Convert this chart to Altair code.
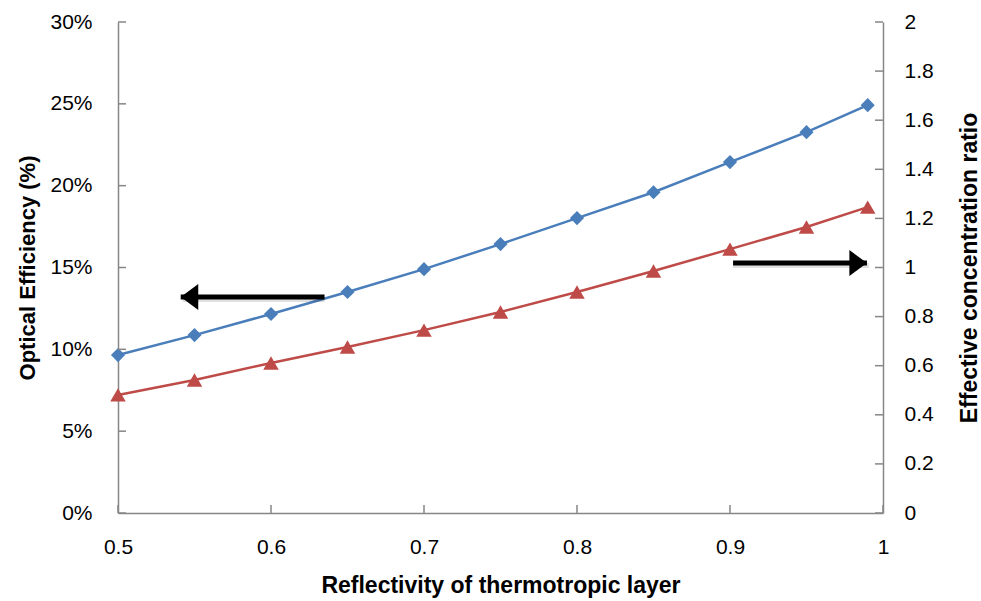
import altair as alt
import pandas as pd

# Data
reflectivity = [0.5, 0.55, 0.6, 0.65, 0.7, 0.75, 0.8, 0.85, 0.9, 0.95, 0.99]
optical_eff = [0.0965, 0.1087, 0.1216, 0.135, 0.149, 0.1643, 0.1802, 0.196, 0.2144, 0.2327, 0.2492]
conc_ratio = [0.481, 0.542, 0.611, 0.676, 0.745, 0.819, 0.900, 0.986, 1.075, 1.165, 1.246]

left_ticks = [0.0, 0.05, 0.10, 0.15, 0.20, 0.25, 0.30]
right_ticks = [0.0, 0.2, 0.4, 0.6, 0.8, 1.0, 1.2, 1.4, 1.6, 1.8, 2.0]
x_ticks = [0.5, 0.6, 0.7, 0.8, 0.9, 1.0]

# annotation arrows (tip, tail, level)
left_arrow = {"tip": 0.541, "tail": 0.635, "level": 0.132}
right_arrow = {"tip": 0.9895, "tail": 0.902, "level": 1.018}

W, H = 765, 491
BLUE = "#4A7EBB"
RED = "#BE4B48"
AXIS_GRAY = "#868686"
FONT = "Liberation Sans"

df = pd.DataFrame({"x": reflectivity, "eff": optical_eff, "conc": conc_ratio})

xscale = alt.Scale(domain=[0.5, 1.0], nice=False, zero=False)
yl_scale = alt.Scale(domain=[0, 0.3], nice=False)
yr_scale = alt.Scale(domain=[0, 2], nice=False)

x_axis = alt.Axis(title="Reflectivity of thermotropic layer", values=x_ticks,
                  format="~g", labelPadding=23, titlePadding=17, titleFontSize=23)
left_axis = alt.Axis(title="Optical Efficiency (%)", values=left_ticks, format=".0%",
                     orient="left", labelPadding=26, titlePadding=10)
right_axis = alt.Axis(title="Effective concentration ratio", values=right_ticks, format="~g",
                      orient="right", labelPadding=21, titlePadding=48, titleAngle=270,
                      titleFontSize=23)


def X(field="x"):
    return alt.X(f"{field}:Q", scale=xscale, axis=x_axis)


def YL():
    return alt.Y("eff:Q", scale=yl_scale, axis=left_axis)


def YR():
    return alt.Y("conc:Q", scale=yr_scale, axis=right_axis)


# ---- left (blue) group ----
blue_line = alt.Chart(df).mark_line(color=BLUE, strokeWidth=2.5).encode(x=X(), y=YL())
blue_pts = alt.Chart(df).mark_point(shape="diamond", filled=True, size=200, color=BLUE, opacity=1).encode(
    x=X(), y=YL())

lt_df = pd.DataFrame({"eff": left_ticks})
left_tick_rules = alt.Chart(lt_df).mark_rule(color=AXIS_GRAY, strokeWidth=1.5).encode(
    y=YL(), x=alt.value(0), x2=alt.value(8))

xt_df = pd.DataFrame({"x": x_ticks})
x_tick_rules = alt.Chart(xt_df).mark_rule(color=AXIS_GRAY, strokeWidth=1.5).encode(
    x=X(), y=alt.value(H - 8), y2=alt.value(H))

la_df = pd.DataFrame({"x": [left_arrow["tip"]], "x2": [left_arrow["tail"]], "eff": [left_arrow["level"]]})
la_shadow = alt.Chart(la_df).mark_rule(color="#000000", opacity=0.12, strokeWidth=5, yOffset=2.5, xOffset=2).encode(
    x=X(), x2="x2:Q", y=YL())
la_shaft = alt.Chart(la_df).mark_rule(color="black", strokeWidth=5).encode(
    x=X(), x2="x2:Q", y=YL())
la_head = alt.Chart(la_df).mark_point(shape="M0,0L1.35,-1L1.35,1Z", filled=True, size=676,
                                      color="black", opacity=1).encode(x=X(), y=YL())

left_group = alt.layer(blue_line, blue_pts, left_tick_rules, x_tick_rules, la_shadow, la_shaft, la_head)

# ---- right (red) group ----
red_line = alt.Chart(df).mark_line(color=RED, strokeWidth=2.5).encode(x=X(), y=YR())
red_pts = alt.Chart(df).mark_point(shape="triangle-up", filled=True, size=240, color=RED, opacity=1).encode(
    x=X(), y=YR())

rt_df = pd.DataFrame({"conc": right_ticks})
right_tick_rules = alt.Chart(rt_df).mark_rule(color=AXIS_GRAY, strokeWidth=1.5).encode(
    y=YR(), x=alt.value(W - 8), x2=alt.value(W))

ra_df = pd.DataFrame({"x": [right_arrow["tip"]], "x2": [right_arrow["tail"]], "conc": [right_arrow["level"]]})
ra_shadow = alt.Chart(ra_df).mark_rule(color="#000000", opacity=0.12, strokeWidth=5, yOffset=2.5, xOffset=2).encode(
    x=X(), x2="x2:Q", y=YR())
ra_shaft = alt.Chart(ra_df).mark_rule(color="black", strokeWidth=5).encode(
    x=X(), x2="x2:Q", y=YR())
ra_head = alt.Chart(ra_df).mark_point(shape="M0,0L-1.35,-1L-1.35,1Z", filled=True, size=676,
                                      color="black", opacity=1).encode(x=X(), y=YR())

right_group = alt.layer(red_line, red_pts, right_tick_rules, ra_shadow, ra_shaft, ra_head)

chart = alt.layer(left_group, right_group).resolve_scale(y="independent").properties(
    width=W, height=H,
    background="white",
    autosize=alt.AutoSizeParams(type="none"),
    padding={"left": 118, "top": 22, "right": 98, "bottom": 88},
).configure_view(stroke=None).configure_axis(
    grid=False, ticks=False,
    domainColor=AXIS_GRAY, domainWidth=1.5,
    labelFont=FONT, labelFontSize=21, labelColor="black",
    titleFont=FONT, titleFontSize=22, titleFontWeight="bold", titleColor="black",
    labelFlush=False, labelOverlap=False,
)

chart.save("out.html", embed_options={"renderer": "svg", "actions": False})
